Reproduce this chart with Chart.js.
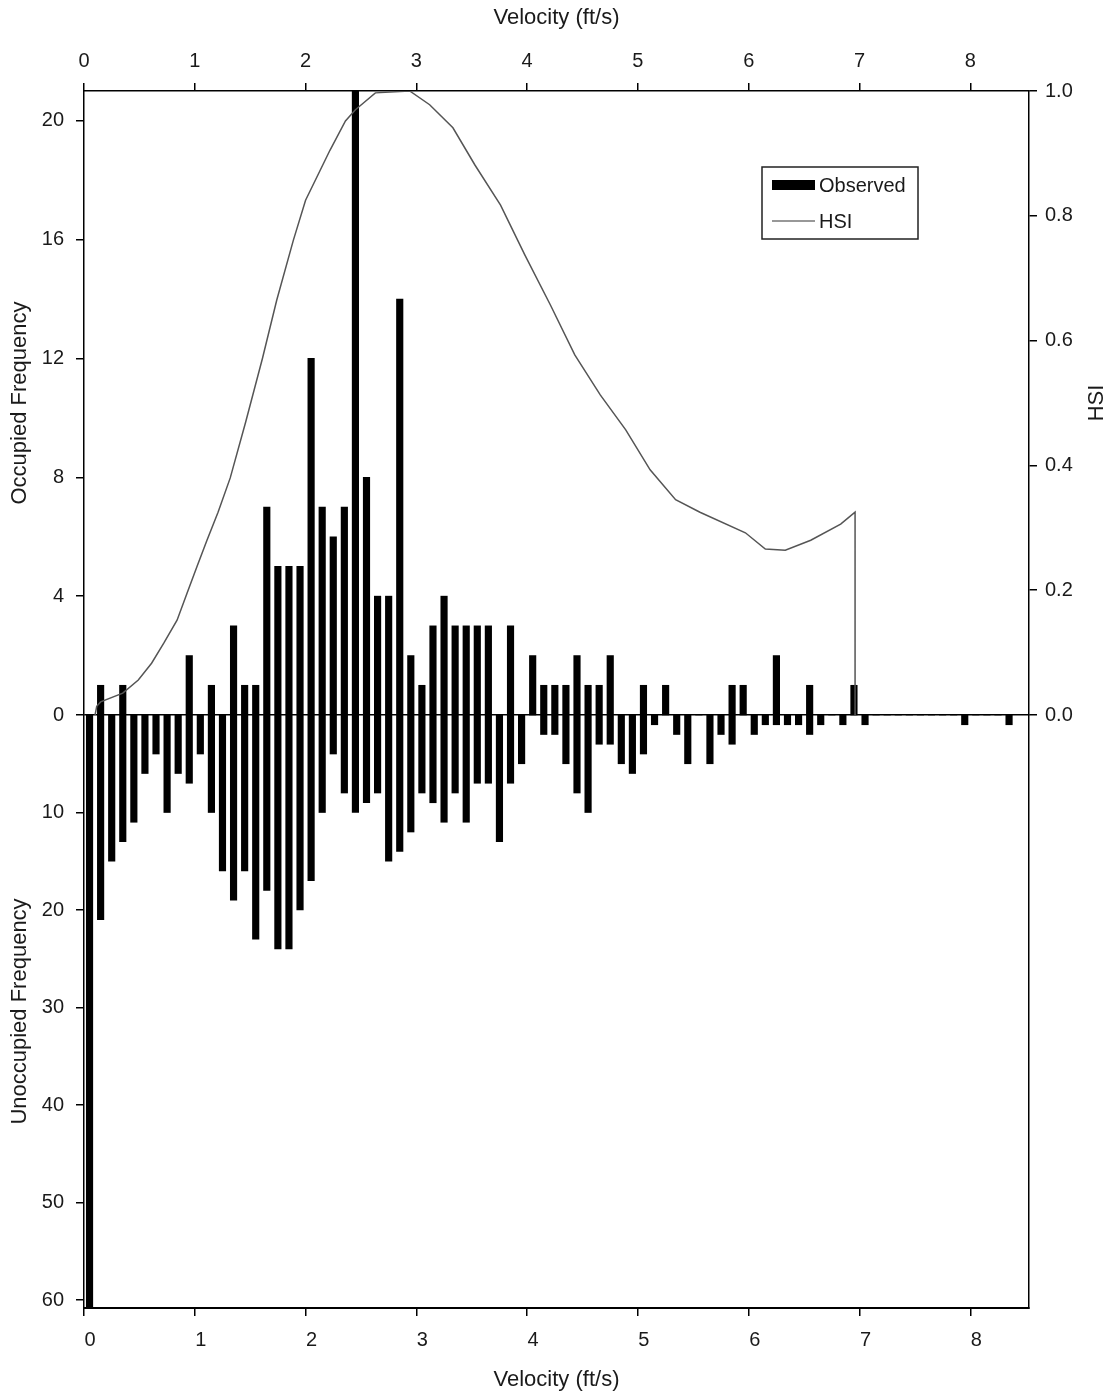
<!DOCTYPE html>
<html>
<head>
<meta charset="utf-8">
<title>Velocity HSI</title>
<script src="https://cdn.jsdelivr.net/npm/chart.js@4.4.0/dist/chart.umd.min.js"></script>
<style>
  html, body { margin: 0; padding: 0; background: #fff; }
  #wrap { width: 1110px; height: 1395px; position: relative; }
</style>
</head>
<body>
<div id="wrap"><canvas id="chart"></canvas></div>
<script>
// bin centres (ft/s)
const velocityBins = [
  0.05, 0.15, 0.25, 0.35, 0.45, 0.55, 0.65, 0.75, 0.85, 0.95,
  1.05, 1.15, 1.25, 1.35, 1.45, 1.55, 1.65, 1.75, 1.85, 1.95,
  2.05, 2.15, 2.25, 2.35, 2.45, 2.55, 2.65, 2.75, 2.85, 2.95,
  3.05, 3.15, 3.25, 3.35, 3.45, 3.55, 3.65, 3.75, 3.85, 3.95,
  4.05, 4.15, 4.25, 4.35, 4.45, 4.55, 4.65, 4.75, 4.85, 4.95,
  5.05, 5.15, 5.25, 5.35, 5.45, 5.55, 5.65, 5.75, 5.85, 5.95,
  6.05, 6.15, 6.25, 6.35, 6.45, 6.55, 6.65, 6.75, 6.85, 6.95,
  7.05, 7.15, 7.25, 7.35, 7.45, 7.55, 7.65, 7.75, 7.85, 7.95,
  8.05, 8.15, 8.25, 8.35
];

const occupied = [
  0, 1, 0, 1, 0, 0, 0, 0, 0, 2,
  0, 1, 0, 3, 1, 1, 7, 5, 5, 5,
  12, 7, 6, 7, 21, 8, 4, 4, 14, 2,
  1, 3, 4, 3, 3, 3, 3, 0, 3, 0,
  2, 1, 1, 1, 2, 1, 1, 2, 0, 0,
  1, 0, 1, 0, 0, 0, 0, 0, 1, 1,
  0, 0, 2, 0, 0, 1, 0, 0, 0, 1,
  0, 0, 0, 0, 0, 0, 0, 0, 0, 0,
  0, 0, 0, 0
];

const unoccupied = [
  62, 21, 15, 13, 11, 6, 4, 10, 6, 7,
  4, 10, 16, 19, 16, 23, 18, 24, 24, 20,
  17, 10, 4, 8, 10, 9, 8, 15, 14, 12,
  8, 9, 11, 8, 11, 7, 7, 13, 7, 5,
  0, 2, 2, 5, 8, 10, 3, 3, 5, 6,
  4, 1, 0, 2, 5, 0, 5, 2, 3, 0,
  2, 1, 1, 1, 1, 2, 1, 0, 1, 0,
  1, 0, 0, 0, 0, 0, 0, 0, 0, 1,
  0, 0, 0, 1
];

// HSI curve
const hsiVelocity = [0.10, 0.115, 0.15, 0.35, 0.49, 0.61, 0.72, 0.84, 0.93, 1.02, 1.11, 1.21, 1.32,
  1.46, 1.61, 1.74, 1.89, 2.00, 2.22, 2.36, 2.45, 2.63, 2.94, 3.12, 3.33, 3.53, 3.76, 3.98,
  4.21, 4.43, 4.66, 4.89, 5.11, 5.34, 5.56, 5.97, 6.15, 6.33, 6.56, 6.83, 6.96, 6.96];
const hsiValue = [0.0, 0.014, 0.021, 0.035, 0.056, 0.083, 0.115, 0.152, 0.195, 0.238, 0.28, 0.325, 0.38,
  0.47, 0.571, 0.665, 0.761, 0.825, 0.905, 0.952, 0.97, 0.997, 1.0, 0.978, 0.941, 0.881, 0.817, 0.737,
  0.657, 0.577, 0.513, 0.457, 0.393, 0.345, 0.325, 0.292, 0.266, 0.264, 0.28, 0.306, 0.325, 0.0];

const velocityTicks = [0, 1, 2, 3, 4, 5, 6, 7, 8];
const occupiedTicks = [0, 4, 8, 12, 16, 20];
const unoccupiedTicks = [10, 20, 30, 40, 50, 60];
const hsiTicks = [0, 0.2, 0.4, 0.6, 0.8, 1.0];

const FONT = '"Liberation Sans", Arial, sans-serif';
const INK = '#1a1a1a';
const tickFont = { family: FONT, size: 20 };
const titleFont = { family: FONT, size: 22 };

function setTicks(vals) { return s => { s.ticks = vals.map(v => ({ value: v })); }; }
function fixWidth(w) { return s => { s.width = w; }; }
function fixHeight(h) { return s => { s.height = h; }; }

// legend box drawn inside the plot, like the original
const boxLegend = {
  id: 'boxLegend',
  afterDraw(chart) {
    const ctx = chart.ctx;
    const ds = chart.data.datasets;
    ctx.save();
    ctx.fillStyle = '#fff';
    ctx.fillRect(762, 167, 156, 72);
    ctx.strokeStyle = '#222';
    ctx.lineWidth = 1.5;
    ctx.strokeRect(762, 167, 156, 72);
    ctx.fillStyle = '#000';
    ctx.fillRect(772, 180, 43, 10);
    ctx.beginPath();
    ctx.moveTo(772, 221);
    ctx.lineTo(815, 221);
    ctx.strokeStyle = '#333';
    ctx.lineWidth = 1.2;
    ctx.stroke();
    ctx.font = '20px ' + FONT;
    ctx.fillStyle = INK;
    ctx.textBaseline = 'middle';
    ctx.fillText(ds[0].label, 819, 186);
    ctx.fillText(ds[2].label, 819, 222);

    // right axis title, reading bottom to top
    const s = chart.scales.yHsi;
    ctx.translate(s.right - 13, (s.top + s.bottom) / 2);
    ctx.rotate(-Math.PI / 2);
    ctx.font = '22px ' + FONT;
    ctx.textAlign = 'center';
    ctx.fillText('HSI', 0, 0);
    ctx.restore();
  }
};

const xCommon = {
  type: 'linear', min: 0, max: 8.53, offset: false,
  afterBuildTicks: setTicks(velocityTicks),
  grid: { drawOnChartArea: false, offset: false, tickLength: 8, tickColor: '#000', lineWidth: 1.5 },
  ticks: { font: tickFont, color: INK, maxRotation: 0 }
};

new Chart(document.getElementById('chart'), {
  type: 'bar',
  data: {
    datasets: [
      {
        label: 'Observed',
        data: velocityBins.map((v, i) => ({ x: v, y: occupied[i] })),
        xAxisID: 'x', yAxisID: 'yOcc',
        backgroundColor: '#000', borderWidth: 0,
        barThickness: 6.5, grouped: false, order: 1
      },
      {
        label: 'Unoccupied',
        data: velocityBins.map((v, i) => ({ x: v, y: -unoccupied[i] })),
        xAxisID: 'x', yAxisID: 'yUn',
        backgroundColor: '#000', borderWidth: 0,
        barThickness: 6.5, grouped: false, order: 1
      },
      {
        type: 'line',
        label: 'HSI',
        data: hsiVelocity.map((v, i) => ({ x: v, y: hsiValue[i] })),
        xAxisID: 'x2', yAxisID: 'yHsi',
        borderColor: '#555', borderWidth: 1.5,
        pointRadius: 0, fill: false, tension: 0, order: 0
      }
    ]
  },
  options: {
    responsive: true,
    maintainAspectRatio: false,
    animation: false,
    layout: { padding: 0 },
    plugins: { legend: { display: false }, tooltip: { enabled: false } },
    scales: {
      x: {
        ...xCommon,
        position: 'bottom',
        afterFit: fixHeight(87),
        border: { color: '#000', width: 2 },
        ticks: { ...xCommon.ticks, padding: 12, labelOffset: 6 },
        title: { display: true, text: 'Velocity (ft/s)', font: titleFont, color: INK, padding: { top: 0, bottom: 2 } }
      },
      x2: {
        ...xCommon,
        position: 'top',
        afterFit: fixHeight(91),
        border: { color: '#000', width: 1.5 },
        ticks: { ...xCommon.ticks, padding: 10 },
        title: { display: true, text: 'Velocity (ft/s)', font: titleFont, color: INK, padding: { top: 5, bottom: 0 } }
      },
      // lower part of the left stack (listed first: left stacks are laid out in reverse)
      yUn: {
        type: 'linear', position: 'left', stack: 'left', stackWeight: 593,
        min: -60.82, max: 0,
        afterBuildTicks: setTicks(unoccupiedTicks.map(v => -v)),
        afterFit: fixWidth(84),
        grid: { drawOnChartArea: false, tickColor: '#000', tickLength: 8, lineWidth: 1.5 },
        border: { color: '#000', width: 1.5 },
        ticks: { font: tickFont, color: INK, padding: 12, callback: v => String(Math.abs(v)) },
        title: { display: true, text: 'Unoccupied Frequency', font: titleFont, color: INK, padding: { top: 7, bottom: 0 } }
      },
      yOcc: {
        type: 'linear', position: 'left', stack: 'left', stackWeight: 624,
        min: 0, max: 21,
        afterBuildTicks: setTicks(occupiedTicks),
        afterFit: fixWidth(84),
        grid: {
          color: c => (c.tick && c.tick.value === 0 ? '#000' : 'rgba(0,0,0,0)'),
          lineWidth: 1.5, tickColor: '#000', tickLength: 8
        },
        border: { color: '#000', width: 1.5 },
        ticks: { font: tickFont, color: INK, padding: 12 },
        title: { display: true, text: 'Occupied Frequency', font: titleFont, color: INK, padding: { top: 7, bottom: 0 } }
      },
      // right side: HSI on the upper part, plain frame below it
      yHsi: {
        type: 'linear', position: 'right', stack: 'right', stackWeight: 624,
        min: 0, max: 1,
        afterBuildTicks: setTicks(hsiTicks),
        afterFit: fixWidth(81),
        grid: { drawOnChartArea: false, tickColor: '#000', tickLength: 8, lineWidth: 1.5 },
        border: { color: '#000', width: 1.5 },
        ticks: { font: tickFont, color: INK, padding: 8, callback: v => v.toFixed(1) }
      },
      yPad: {
        type: 'linear', position: 'right', stack: 'right', stackWeight: 593,
        min: 0, max: 1,
        afterBuildTicks: s => { s.ticks = []; },
        afterFit: fixWidth(81),
        grid: { drawOnChartArea: false, drawTicks: false },
        border: { color: '#000', width: 1.5 },
        ticks: { display: false }
      }
    }
  },
  plugins: [boxLegend]
});
</script>
</body>
</html>
